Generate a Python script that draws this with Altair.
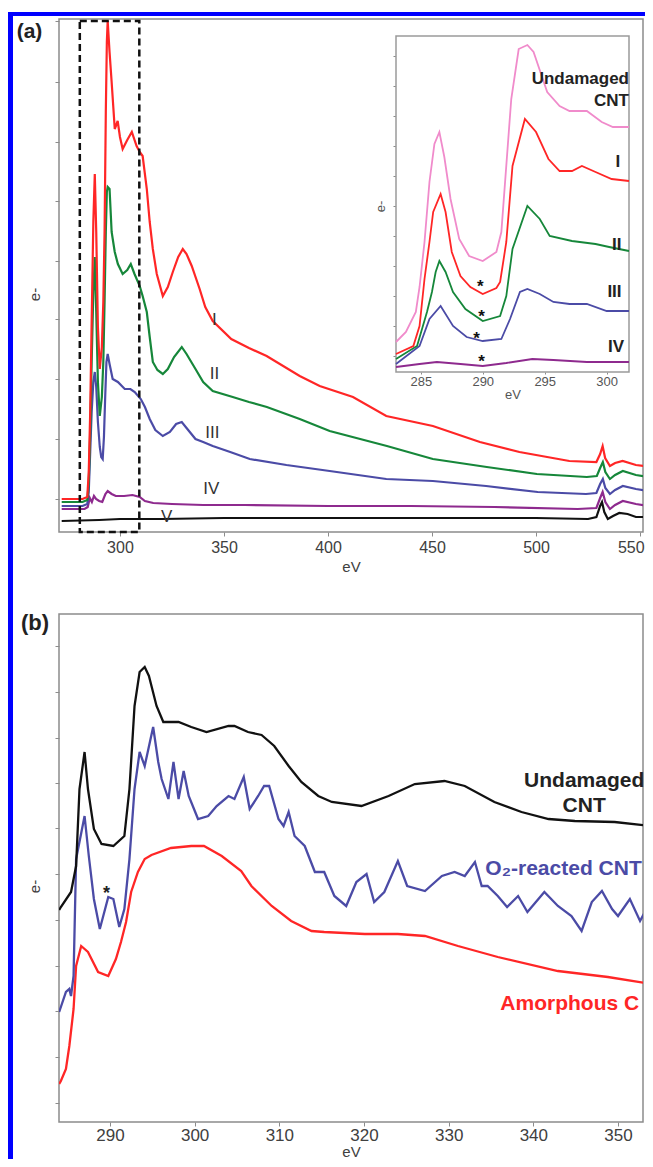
import altair as alt
import pandas as pd

FONT = "Liberation Sans"
FRAME_BLUE = "#0000ff"
GRAY = "#8c8c8c"
TXT = "#404040"
RED = "#ff2626"
GREEN = "#16873a"
SLATE = "#4b4ba6"
PURPLE = "#8e2a8e"
PINK = "#f08bcb"
BLACK = "#111111"

# ---------------- panel (a): main spectra (eV, intensity) ----------------
a_I_ev = [272, 282, 284.3, 285.0, 285.7, 286.4, 287.2, 287.9, 288.6, 289.4, 290.3, 291.3, 292.0, 292.6,
          293.2, 293.7, 294.1, 295.0, 296.0, 297.5, 298.9, 300.0, 301.3, 303.5, 305.7, 308.0, 309.5,
          310.9, 312.9, 314.3, 315.8, 317.7, 320.6, 323.0, 325.4, 328.0, 330.2, 332.0, 334.5, 338.3,
          341.0, 344.6, 353.5, 362.0, 370.5, 386.4, 396.0, 412.0, 428.0, 450.4, 473.0, 492.0, 516.0,
          529.0, 530.8, 532.0, 533.2, 535.5, 538.0, 541.6, 548.0, 555.0]
a_I = [33, 33, 35, 60, 120, 210, 310, 358, 300, 205, 163, 185, 230, 300,
       420, 490, 511, 480, 450, 403, 411, 395, 383, 392, 400, 386, 380,
       376, 343, 310, 283, 258, 236, 245, 260, 275, 283, 278, 266, 243,
       225, 211, 193, 184, 176, 156, 146, 135, 116, 106, 90, 80, 71,
       70, 78, 86, 74, 66, 69, 71, 67, 65]

a_II_ev = [272, 282, 284.3, 285.0, 285.7, 286.4, 287.2, 287.9, 288.6, 289.4, 290.3, 291.3, 292.0, 292.6,
           293.2, 293.7, 294.1, 295.0, 296.0, 297.5, 299.0, 301.3, 303.5, 305.2, 307.0, 309.5, 310.9,
           312.9, 314.3, 315.8, 318.0, 320.6, 323.0, 326.0, 329.7, 332.0, 336.3, 340.0, 344.6, 354.2,
           362.0, 370.6, 386.4, 400.8, 428.3, 450.4, 476.3, 500.4, 524.4, 529.2, 530.8, 532.1, 533.3,
           535.5, 538.0, 541.7, 548.0, 554.7]
a_II = [30, 30, 32, 50, 100, 170, 240, 275, 220, 150, 116, 135, 170, 230,
        300, 340, 345, 343, 300, 280, 268, 258, 262, 268, 258, 246, 236,
        220, 195, 170, 162, 158, 163, 175, 185, 178, 163, 150, 141, 135,
        130, 125, 113, 101, 86, 73, 65, 58, 55, 56, 64, 70, 60,
        53, 57, 61, 57, 55]

a_III_ev = [272, 282, 284.3, 285.0, 285.7, 286.4, 287.2, 287.9, 288.6, 289.4, 290.3, 291.0, 291.7, 292.3,
            292.9, 293.5, 294.1, 295.0, 296.5, 299.0, 302.3, 305.0, 307.1, 310.0, 312.0, 314.3, 317.0,
            320.6, 324.0, 327.0, 329.7, 332.0, 336.3, 340.0, 344.6, 353.0, 362.4, 380.0, 400.8, 428.0,
            450.4, 476.0, 500.8, 524.0, 529.0, 530.8, 532.1, 533.3, 535.5, 538.0, 541.7, 548.0, 554.7]
a_III = [26, 26, 28, 40, 80, 120, 150, 160, 145, 110, 85, 75, 73, 95,
         135, 170, 178, 168, 153, 150, 143, 143, 140, 133, 125, 113, 102,
         96, 100, 108, 110, 104, 93, 90, 86, 80, 73, 67, 61, 53,
         51, 46, 40, 38, 39, 48, 53, 44, 38, 42, 46, 43, 41]

a_IV_ev = [272, 283, 284.5, 285.5, 286.5, 287.5, 288.5, 290.0, 291.5, 293.0, 294.1, 296.0, 298.0, 302.0,
           306.0, 309.5, 312.0, 316.0, 325.0, 340.0, 360.0, 400.0, 440.0, 480.0, 520.0, 529.0, 530.8,
           532.0, 533.3, 535.5, 538.0, 541.7, 548.0, 554.7]
a_IV = [23, 23, 25, 34, 30, 36, 33, 31, 30, 38, 41, 38, 36, 36,
        37, 35, 31, 29, 28, 27, 27, 26, 26, 25, 23, 24, 34,
        40, 30, 23, 27, 31, 28, 26]

a_V_ev = [272, 290, 300, 320, 350, 400, 450, 500, 525, 529, 530.8, 531.7, 532.8, 534.5, 537, 540, 544,
          548, 554.7]
a_V = [11, 12, 13, 13, 14, 14, 14, 14, 13, 15, 26, 30, 20, 13, 16, 19, 18, 15, 15]

a_box_ev = [280.7, 309.3]      # dashed region (eV)
a_box_I = [0, 511]

a_lab_text = ["I", "II", "III", "IV", "V"]
a_lab_ev = [345.4, 345.4, 344.4, 343.9, 322.4]
a_lab_I = [212, 158, 99, 43, 15]

A_XDOM = [270.7, 551.4]
A_YDOM = [0, 513]
A_XTICKS = [300, 350, 400, 450, 500, 550]
A_YTICKS = [33, 93, 153, 213, 271, 331, 390, 450, 511]

# ---------------- inset of panel (a) ----------------
in_U_ev = [283.0, 283.8, 284.6, 284.9, 285.3, 285.7, 286.1, 286.5, 286.9, 287.4, 288.1, 288.9, 290.0,
           291.1, 291.5, 292.3, 292.9, 293.6, 294.1, 295.2, 296.2, 297.0, 298.4, 299.6, 300.5, 301.8]
in_U = [30, 40, 60, 85, 130, 190, 228, 240, 215, 173, 133, 116, 111,
        120, 140, 273, 323, 327, 320, 280, 266, 261, 261, 250, 245, 245]

in_I_ev = [283.0, 284.4, 284.9, 285.3, 285.7, 286.0, 286.6, 287.0, 287.5, 288.2, 289.0, 290.0, 291.1,
           291.4, 291.9, 292.4, 293.4, 294.3, 295.3, 296.2, 297.2, 298.0, 299.1, 300.4, 301.8]
in_I = [18, 26, 46, 93, 130, 160, 178, 160, 120, 96, 85, 78, 84,
        90, 130, 206, 253, 240, 213, 201, 201, 206, 200, 193, 191]

in_II_ev = [283.0, 284.7, 285.5, 285.9, 286.2, 286.5, 287.0, 287.6, 288.6, 290.0, 291.4, 291.9, 292.4,
            293.6, 294.6, 295.4, 297.2, 299.1, 300.2, 301.8]
in_II = [13, 26, 60, 80, 100, 111, 100, 80, 63, 51, 56, 76, 123,
         166, 153, 136, 131, 128, 125, 121]

in_III_ev = [283.0, 284.9, 285.7, 286.6, 287.6, 288.7, 290.0, 291.5, 292.2, 293.0, 293.6, 294.6, 295.7,
             297.0, 298.4, 300.0, 301.8]
in_III = [8, 26, 53, 66, 46, 35, 31, 33, 53, 80, 83, 78, 70,
          68, 68, 61, 61]

in_IV_ev = [283.0, 284.9, 286.3, 288.2, 290.0, 291.9, 294.0, 295.7, 298.4, 301.8]
in_IV = [5, 8, 10, 8, 6, 9, 13, 12, 10, 10]

in_lab_text = ["Undamaged", "CNT", "I", "II", "III", "IV"]
in_lab_ev = [301.8, 301.8, 301.1, 301.2, 301.2, 301.4]
in_lab_I = [293, 271, 210, 127, 80, 25]

in_star_ev = [289.8, 289.9, 289.5, 289.9]
in_star_I = [90, 60, 38, 15]

IN_XDOM = [283.0, 301.8]
IN_YDOM = [0, 336]
IN_XTICKS = [285, 290, 295, 300]
IN_YTICKS = [16, 46, 76, 106, 136, 166, 196, 226, 256, 286, 316]

# ---------------- panel (b) ----------------
b_U_ev = [284.0, 284.2, 285.4, 286.0, 286.4, 287.0, 287.4, 288.1, 289.0, 290.4, 291.7, 292.3, 292.9,
          293.5, 294.1, 294.6, 295.5, 296.3, 298.1, 299.6, 301.4, 304.0, 304.7, 306.3, 307.9, 309.4,
          311.1, 312.6, 314.6, 316.2, 319.7, 322.9, 326.0, 329.5, 331.9, 335.4, 338.6, 341.8, 344.9,
          349.6, 354.0]
b_U = [212, 215, 230, 256, 333, 370, 333, 293, 278, 276, 286, 333, 416,
       450, 455, 446, 416, 400, 400, 395, 390, 396, 396, 390, 387, 376,
       356, 340, 326, 320, 316, 326, 338, 341, 336, 320, 310, 303, 301,
       300, 296]

b_O_ev = [284.0, 284.8, 285.2, 285.4, 285.7, 286.0, 287.0, 287.5, 288.1, 288.8, 289.8, 290.4, 291.1,
          291.7, 292.3, 292.9, 293.5, 294.1, 295.1, 295.7, 296.1, 296.9, 297.5, 298.1, 298.7, 299.3,
          300.4, 301.6, 302.6, 304.0, 304.7, 305.8, 306.5, 307.5, 308.2, 308.8, 309.9, 310.5, 311.1,
          311.8, 313.0, 314.2, 315.3, 316.5, 317.9, 319.1, 320.3, 321.2, 322.4, 324.0, 325.1, 327.2,
          329.2, 330.7, 331.9, 333.1, 333.9, 334.6, 335.8, 336.9, 338.2, 339.3, 341.3, 342.9, 344.5,
          345.7, 346.9, 348.1, 349.3, 350.0, 351.4, 352.6, 354.0]
b_O = [110, 130, 133, 126, 146, 263, 306, 266, 223, 193, 225, 223, 195,
       213, 263, 333, 370, 356, 395, 360, 343, 323, 360, 323, 351, 326,
       303, 306, 316, 326, 323, 345, 313, 326, 336, 336, 303, 296, 310,
       286, 276, 250, 250, 226, 216, 240, 248, 220, 230, 261, 236, 231,
       246, 250, 246, 260, 236, 236, 226, 215, 226, 210, 230, 216, 206,
       191, 220, 231, 213, 206, 223, 201, 223]

b_A_ev = [284.0, 284.2, 284.8, 285.2, 285.7, 286.0, 286.6, 287.4, 288.6, 289.8, 290.7, 291.3, 291.9,
          292.5, 293.3, 294.1, 294.9, 297.2, 299.6, 301.1, 303.2, 305.5, 306.7, 309.1, 311.4, 313.8,
          315.3, 320.1, 324.0, 327.2, 331.1, 335.8, 342.9, 348.8, 354.0]
b_A = [38, 41, 53, 76, 113, 156, 176, 170, 150, 146, 163, 180, 200,
       230, 250, 263, 267, 274, 276, 276, 266, 251, 236, 216, 201, 191,
       190, 188, 188, 186, 176, 165, 151, 145, 138]

b_lab_text = ["Undamaged", "CNT"]
b_lab_ev = [346.0, 346.0]
b_lab_I = [341, 316]
b_O_lab = "O\u2082-reacted CNT"
b_O_lab_pos = (352.8, 253)
b_A_lab = "Amorphous C"
b_A_lab_pos = (352.5, 118)
b_star_pos = (289.6, 233)

B_XDOM = [283.98, 352.95]
B_YDOM = [0, 508]
B_XTICKS = [290, 300, 310, 320, 330, 340, 350]
B_YTICKS = [19, 65, 111, 156, 202, 248, 294, 339, 384, 430, 476]

# ---------------- layout of the single view (pixels inside the view) ----------------
W = 584          # view width
H = 1103         # view height (top of panel a to bottom of panel b)
HA = 513         # panel (a) height
B_TOP = 595      # top of panel (b)
IN_X = [337, 570]
IN_Y = [353, 17]


def df_of(ev, val):
    return pd.DataFrame({"eV": ev, "I": val})


def line(ev, val, color, x, y, width):
    return alt.Chart(df_of(ev, val)).mark_line(color=color, strokeWidth=width, clip=True).encode(x=x, y=y)


def box(xdom, ydom, x, y, **kw):
    d = pd.DataFrame({"eV": [xdom[0]], "eV2": [xdom[1]], "I": [ydom[0]], "I2": [ydom[1]]})
    return alt.Chart(d).mark_rect(**kw).encode(x=x, x2="eV2:Q", y=y, y2="I2:Q")


def xaxis(ticks, size, title_y, offset, label_pad, title_size):
    return alt.Axis(orient="bottom", offset=offset, title="eV", values=ticks, format="d", tickSize=4,
                    tickColor=GRAY, tickWidth=1, labelPadding=label_pad, labelBaseline="middle",
                    labelFontSize=size, labelColor=TXT, labelFlush=6, labelFlushOffset=4,
                    titleFontSize=title_size, titleFontWeight="normal", titleColor=TXT, titleY=title_y,
                    titleBaseline="middle", domain=False, grid=False)


def yaxis(ticks, title_x, title_y, size, offset=0, tick=4, color=TXT):
    return alt.Axis(orient="left", offset=offset, title="e-", values=ticks, labels=False, tickSize=tick,
                    tickColor=GRAY, tickWidth=1, domain=False, grid=False, titleFontSize=size,
                    titleFontWeight="normal", titleColor=color, titleX=title_x, titleY=title_y,
                    titleBaseline="middle", titleAngle=270)


one = pd.DataFrame({"k": [0]})


def blue_bar(x0, x1, y0, y1):
    return alt.Chart(one).mark_rect(color=FRAME_BLUE, strokeWidth=0).encode(
        x=alt.value(x0), x2=alt.value(x1), y=alt.value(y0), y2=alt.value(y1))


def tag(text, x, y, size):
    return alt.Chart(one).mark_text(text=text, fontSize=size, fontWeight="bold", color="#222222").encode(
        x=alt.value(x), y=alt.value(y))


deco = alt.layer(
    blue_bar(-51, -46, -7, H + 37),
    blue_bar(-51, W + 2, -7, -3),
    tag("(a)", -29.5, 12.5, 21),
    tag("(b)", -24, B_TOP + 8.5, 22),
)

# ---------- panel (a) ----------
xa = alt.X("eV:Q", scale=alt.Scale(domain=A_XDOM, range=[0, W], nice=False, zero=False),
           axis=xaxis(A_XTICKS, 16, 34, HA - H, 11, 15))
ya = alt.Y("I:Q", scale=alt.Scale(domain=A_YDOM, range=[HA, 0], nice=False, zero=False),
           axis=yaxis(A_YTICKS, -25, 275, 15))

main_a = alt.layer(
    box(A_XDOM, A_YDOM, xa, ya, fillOpacity=0, stroke=GRAY, strokeWidth=1.5),
    line(a_V_ev, a_V, BLACK, xa, ya, 2.2),
    line(a_IV_ev, a_IV, PURPLE, xa, ya, 2.2),
    line(a_III_ev, a_III, SLATE, xa, ya, 2.2),
    line(a_II_ev, a_II, GREEN, xa, ya, 2.2),
    line(a_I_ev, a_I, RED, xa, ya, 2.2),
    box(a_box_ev, a_box_I, xa, ya, fillOpacity=0, stroke="#111111", strokeWidth=2.5, strokeDash=[7, 4]),
    alt.Chart(pd.DataFrame({"eV": a_lab_ev, "I": a_lab_I, "t": a_lab_text}))
    .mark_text(fontSize=17, color="#333333")
    .encode(x=xa, y=ya, text="t:N"),
)

# ---------- inset ----------
xi = alt.X("eV:Q", scale=alt.Scale(domain=IN_XDOM, range=IN_X, nice=False, zero=False),
           axis=alt.Axis(orient="bottom", offset=IN_Y[0] - H, title="eV", values=IN_XTICKS, format="d",
                         tickSize=2, tickColor=GRAY, labelPadding=7, labelBaseline="middle",
                         labelFontSize=13, labelColor="#555555", labelFlush=False, titleFontSize=13,
                         titleFontWeight="normal", titleColor="#555555", titleY=22, titleBaseline="middle",
                         domain=False, grid=False))
yi = alt.Y("I:Q", scale=alt.Scale(domain=IN_YDOM, range=IN_Y, nice=False, zero=False),
           axis=yaxis(IN_YTICKS, -16, 187, 13, offset=-IN_X[0], tick=3, color="#555555"))

inset = alt.layer(
    box(IN_XDOM, IN_YDOM, xi, yi, fill="white", stroke="#9a9a9a", strokeWidth=1.5),
    line(in_IV_ev, in_IV, PURPLE, xi, yi, 1.8),
    line(in_III_ev, in_III, SLATE, xi, yi, 1.8),
    line(in_II_ev, in_II, GREEN, xi, yi, 1.8),
    line(in_I_ev, in_I, RED, xi, yi, 1.8),
    line(in_U_ev, in_U, PINK, xi, yi, 1.8),
    alt.Chart(pd.DataFrame({"eV": in_lab_ev, "I": in_lab_I, "t": in_lab_text}))
    .mark_text(fontSize=17, fontWeight="bold", color="#222222", align="right")
    .encode(x=xi, y=yi, text="t:N"),
    alt.Chart(pd.DataFrame({"eV": in_star_ev, "I": in_star_I}))
    .mark_text(text="*", fontSize=17, fontWeight="bold", color="#111111", dy=5)
    .encode(x=xi, y=yi),
)

# ---------- panel (b) ----------
xb = alt.X("eV:Q", scale=alt.Scale(domain=B_XDOM, range=[0, W], nice=False, zero=False),
           axis=xaxis(B_XTICKS, 17, 29.5, 0, 9, 15))
yb = alt.Y("I:Q", scale=alt.Scale(domain=B_YDOM, range=[H, B_TOP], nice=False, zero=False),
           axis=yaxis(B_YTICKS, -25, 867, 15))

panel_b = alt.layer(
    box(B_XDOM, B_YDOM, xb, yb, fillOpacity=0, stroke=GRAY, strokeWidth=1.5),
    line(b_A_ev, b_A, RED, xb, yb, 2.3),
    line(b_O_ev, b_O, SLATE, xb, yb, 2.3),
    line(b_U_ev, b_U, BLACK, xb, yb, 2.3),
    alt.Chart(pd.DataFrame({"eV": b_lab_ev, "I": b_lab_I, "t": b_lab_text}))
    .mark_text(fontSize=21, fontWeight="bold", color="#222222")
    .encode(x=xb, y=yb, text="t:N"),
    alt.Chart(pd.DataFrame({"eV": [b_O_lab_pos[0]], "I": [b_O_lab_pos[1]], "t": [b_O_lab]}))
    .mark_text(fontSize=21, fontWeight="bold", color=SLATE, align="right")
    .encode(x=xb, y=yb, text="t:N"),
    alt.Chart(pd.DataFrame({"eV": [b_A_lab_pos[0]], "I": [b_A_lab_pos[1]], "t": [b_A_lab]}))
    .mark_text(fontSize=21, fontWeight="bold", color=RED, align="right")
    .encode(x=xb, y=yb, text="t:N"),
    alt.Chart(pd.DataFrame({"eV": [b_star_pos[0]], "I": [b_star_pos[1]]}))
    .mark_text(text="*", fontSize=18, fontWeight="bold", color="#222222", dy=5)
    .encode(x=xb, y=yb),
)

chart = (
    alt.layer(deco, main_a, inset, panel_b)
    .resolve_scale(x="independent", y="independent")
    .properties(width=W, height=H, padding={"left": 0, "top": 4, "right": 0, "bottom": 0},
                background="white")
    .configure_view(strokeWidth=0)
    .configure_text(font=FONT)
    .configure_axis(labelFont=FONT, titleFont=FONT)
)

chart.save("out.html", embed_options={"renderer": "svg", "actions": False})
